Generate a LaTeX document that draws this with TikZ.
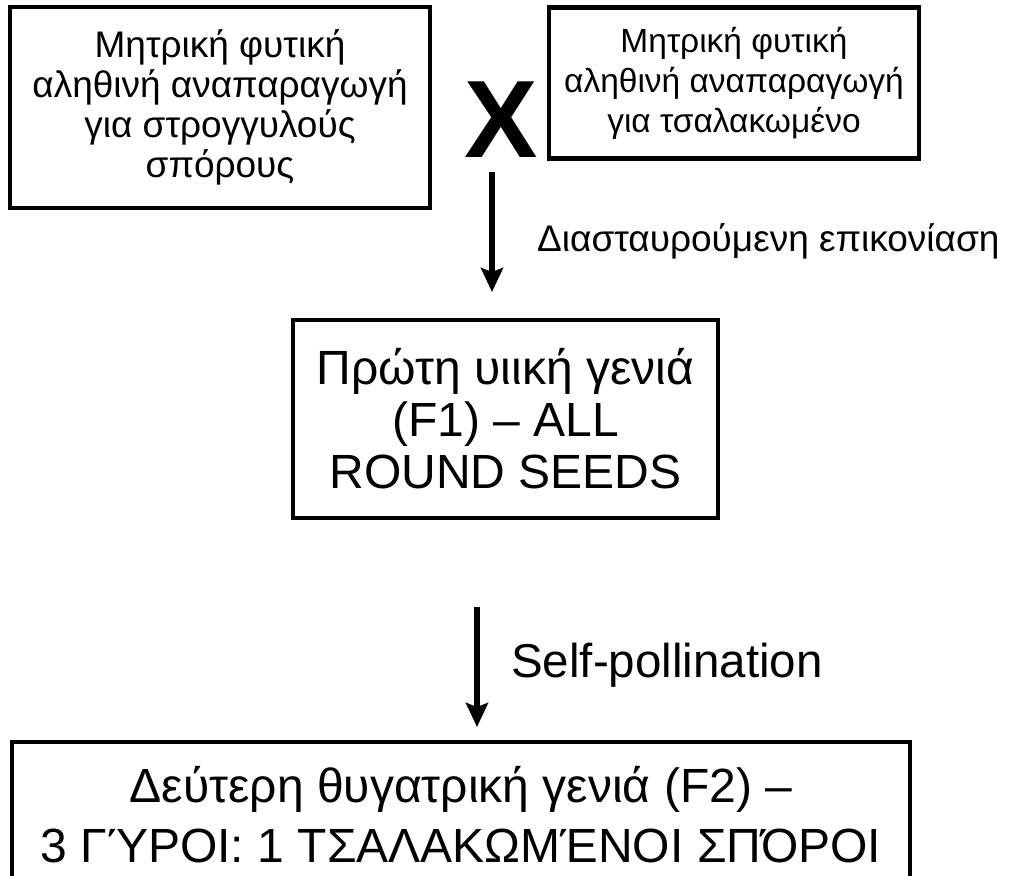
\documentclass[tikz,border=0pt]{standalone}
\usepackage{fontspec}
\setmainfont{Liberation Sans}
\usetikzlibrary{arrows.meta}
\begin{document}
\begin{tikzpicture}[x=1pt,y=-1pt,
  box/.style={draw, line width=4.5pt, inner sep=0pt, align=center},
  conn/.style={line width=6pt, -{Stealth[width=22pt,length=24pt,inset=4pt]}},
  smalltext/.style={font=\fontsize{37}{40}\selectfont},
  bigtext/.style={font=\fontsize{48}{52}\selectfont},
  lbl/.style={inner sep=0pt, anchor=base west}]
\useasboundingbox (0,0) rectangle (1011,875);
\clip (0,0) rectangle (1011,875);
\node[box, smalltext, minimum width=420pt, minimum height=201pt] (p1) at (220,107.5)
  {Μητρική φυτική\\αληθινή αναπαραγωγή\\για στρογγυλούς\\σπόρους};
\node[box, font=\fontsize{33.5}{40}\selectfont, minimum width=370pt, minimum height=151pt] (p2) at (734,83)
  {Μητρική φυτική\\αληθινή αναπαραγωγή\\για τσαλακωμένο};
\node[inner sep=0pt, anchor=base, font=\fontsize{110}{110}\selectfont\bfseries] (x) at (501.5,157) {X};
\node[box, bigtext, minimum width=425pt, minimum height=198pt] (f1) at (505.5,419)
  {Πρώτη υιική γενιά\\(F1) – ALL\\ROUND SEEDS};
\node[box, font=\fontsize{48}{60}\selectfont, minimum width=898pt, minimum height=146pt] (f2) at (461,815)
  {Δεύτερη θυγατρική γενιά (F2) –\\3 ΓΎΡΟΙ: 1 ΤΣΑΛΑΚΩΜΈΝΟΙ ΣΠΌΡΟΙ};
\coordinate (a1s) at (492,172);
\coordinate (a1e) at (492,292);
\coordinate (a2s) at (477,607);
\coordinate (a2e) at (477,727);
\draw[conn] (a1s) -- (a1e);
\draw[conn] (a2s) -- (a2e);
\node[lbl, font=\fontsize{37}{40}\selectfont] (l1) at (537,251) {Διασταυρούμενη επικονίαση};
\node[lbl, font=\fontsize{47.5}{50}\selectfont] (l2) at (511,677) {Self-pollination};
\end{tikzpicture}
\end{document}
